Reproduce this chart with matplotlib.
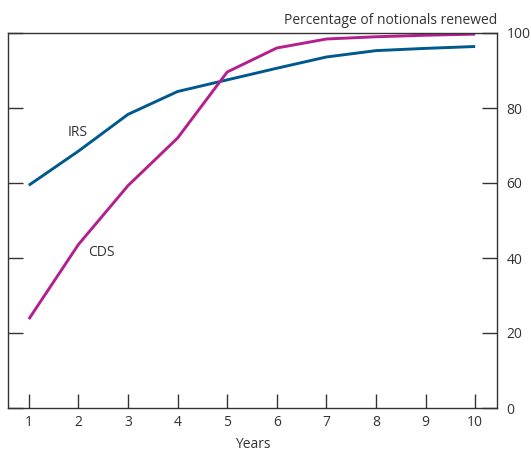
import matplotlib
matplotlib.use("Agg")
from matplotlib import pyplot as plt

plt.rcParams['font.family'] = ['Open Sans', 'DejaVu Sans']

years = [1, 2, 3, 4, 5, 6, 7, 8, 9, 10]
irs = [59.4, 68.5, 78.3, 84.4, 87.5, 90.6, 93.6, 95.3, 95.9, 96.4]
cds = [23.7, 43.6, 59.3, 72.0, 89.6, 96.0, 98.4, 99.0, 99.4, 99.7]
yticks = [0, 20, 40, 60, 80, 100]

blue = '#00598c'
magenta = '#b3208e'
edge = '#333333'

fig = plt.figure(figsize=(5.31, 4.51), dpi=100)
ax = fig.add_axes([8 / 531, 43 / 451, 489 / 531, 375 / 451])

ax.plot(years, irs, color=blue, lw=2.1, solid_capstyle='butt')
ax.plot(years, cds, color=magenta, lw=2.1, solid_capstyle='butt')

ax.set_xlim(0.58, 10.44)
ax.set_ylim(0, 100)
ax.set_xticks(years)
ax.set_yticks(yticks)

ax.tick_params(axis='x', direction='in', length=10, width=1, color=edge,
               labelsize=10, labelcolor='#333333', pad=5)
ax.tick_params(axis='y', direction='in', length=11, width=1, color=edge,
               left=True, right=True, labelleft=False, labelright=True,
               labelsize=10, labelcolor='#333333', pad=7)
for s in ax.spines.values():
    s.set_color(edge)
    s.set_linewidth(1)

ax.text(1.78, 73.5, 'IRS', fontsize=10, color='#333333', ha='left', va='center')
ax.text(2.2, 41.5, 'CDS', fontsize=10, color='#333333', ha='left', va='center')

ax.text(1.0, 1.012, 'Percentage of notionals renewed', transform=ax.transAxes,
        ha='right', va='bottom', fontsize=10, color='#333333')
ax.set_xlabel('Years', fontsize=10, color='#333333', labelpad=5)

fig.savefig('out.png', dpi=100)
